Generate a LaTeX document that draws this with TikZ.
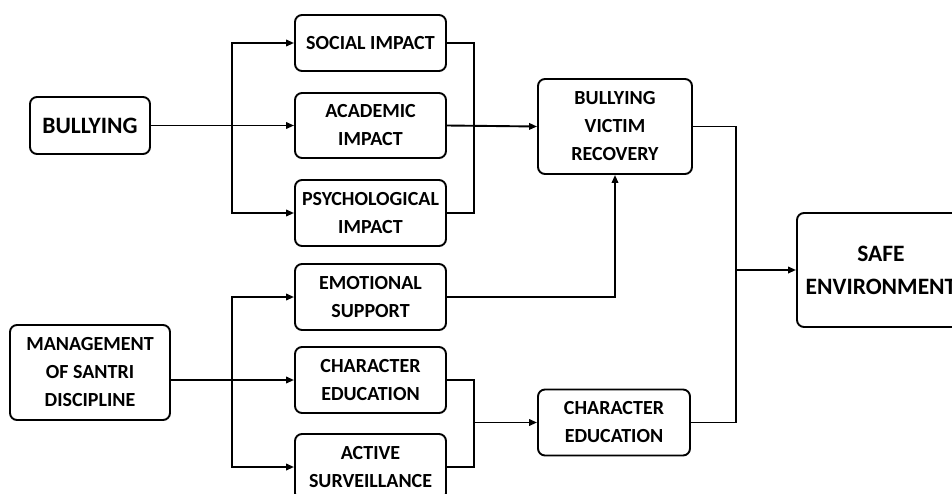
\documentclass[tikz,border=0pt]{standalone}
\usepackage{fontspec}
\setmainfont{Carlito}
\usetikzlibrary{arrows.meta}
\begin{document}
\begin{tikzpicture}[x=1pt,y=-1pt,
  box/.style={draw, line width=1.9pt, rounded corners=7pt, align=center,
    inner sep=0pt, font=\bfseries\fontsize{20}{28}\selectfont},
  bigbox/.style={box, font=\bfseries\fontsize{23.5}{33}\selectfont},
  link/.style={line width=1.9pt},
  arr/.style={link, -{Triangle[length=8pt,width=6.5pt]}}]
\useasboundingbox (0,0) rectangle (952,493);
\fill[white] (0,0) rectangle (952,493);
\clip (0,0) rectangle (952,493);

% bullying branch
\node[bigbox, minimum width=120pt, minimum height=57pt] (bully) at (90,125.5) {BULLYING};
\node[box, minimum width=151pt, minimum height=56pt] (social) at (370.5,43) {SOCIAL IMPACT};
\node[box, minimum width=151pt, minimum height=65pt] (academic) at (370.5,125.5) {ACADEMIC\\IMPACT};
\node[box, minimum width=151pt, minimum height=66pt] (psych) at (370.5,213) {PSYCHOLOGICAL\\IMPACT};
\node[box, minimum width=154pt, minimum height=95pt] (bvr) at (615,126.5) {BULLYING\\VICTIM\\RECOVERY};

% discipline branch
\node[box, minimum width=160pt, minimum height=95pt] (mgmt) at (90,372.5) {MANAGEMENT\\OF SANTRI\\DISCIPLINE};
\node[box, minimum width=151pt, minimum height=66pt] (emo) at (370.5,297) {EMOTIONAL\\SUPPORT};
\node[box, minimum width=151pt, minimum height=66pt] (chared) at (370.5,380) {CHARACTER\\EDUCATION};
\node[box, minimum width=151pt, minimum height=66pt] (active) at (370.5,467) {ACTIVE\\SURVEILLANCE};
\node[box, minimum width=152pt, minimum height=66pt] (chared2) at (614,422.5) {CHARACTER\\EDUCATION};

% outcome
\node[bigbox, minimum width=168pt, minimum height=114pt] (safe) at (881,270) {SAFE\\ENVIRONMENT};

% junction points
\coordinate (jb) at (232,125.5);
\coordinate (jm) at (232,380);
\coordinate (tr1) at (474,125.5);
\coordinate (tr2) at (474,422.5);
\coordinate (js) at (736,270);

% bullying to its impacts
\draw[arr] (bully.east) -- (academic.west);
\draw[arr] (jb) |- (social.west);
\draw[arr] (jb) |- (psych.west);

% impacts to recovery
\draw[link] (social.east) -| (tr1) |- (psych.east);
\draw[arr] (academic.east) -- (bvr.west);

% discipline to its measures
\draw[arr] (mgmt.east |- jm) -- (chared.west);
\draw[arr] (jm) |- (emo.west);
\draw[arr] (jm) |- (active.west);

% measures onward
\draw[arr] (emo.east) -| (bvr.south);
\draw[link] (chared.east) -| (tr2) |- (active.east);
\draw[arr] (tr2) -- (chared2.west);

% both paths to a safe environment
\draw[link] (bvr.east) -| (js) |- (chared2.east);
\draw[arr] (js) -- (safe.west);
\end{tikzpicture}
\end{document}
